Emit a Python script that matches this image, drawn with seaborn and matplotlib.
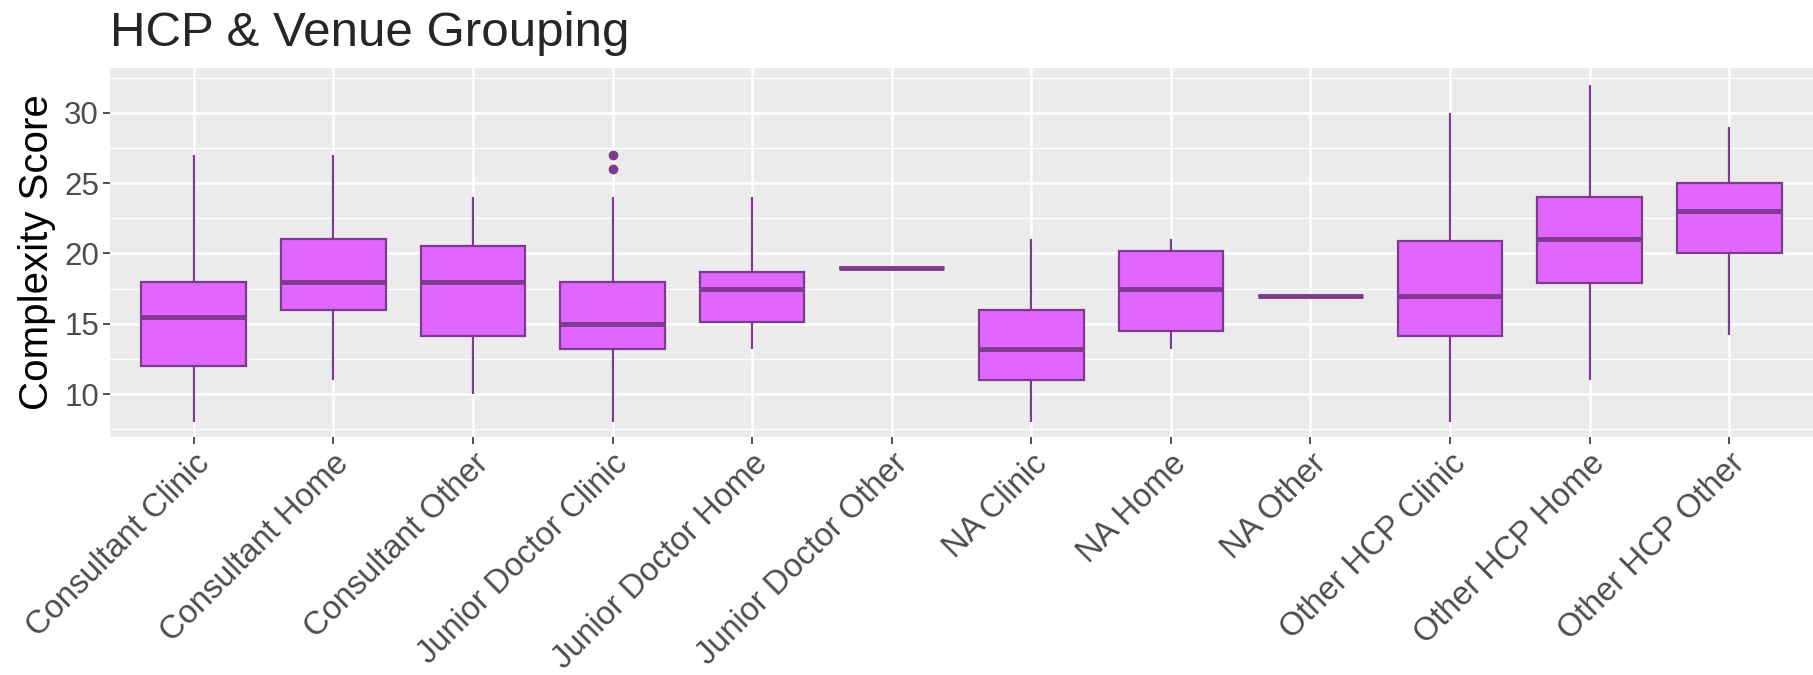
import pandas as pd
import numpy as np
import matplotlib.pyplot as plt
import seaborn as sns

# Five-number summaries (whisker low, Q1, median, Q3, whisker high)
groups = ["Consultant Clinic", "Consultant Home", "Consultant Other",
          "Junior Doctor Clinic", "Junior Doctor Home", "Junior Doctor Other",
          "NA Clinic", "NA Home", "NA Other",
          "Other HCP Clinic", "Other HCP Home", "Other HCP Other"]
whisk_lo = [8, 11, 10, 8, 13.2, 19, 8, 13.2, 17, 8, 11, 14.2]
q1 = [12, 16, 14.1, 13.2, 15.1, 19, 11, 14.5, 17, 14.1, 17.9, 20]
median = [15.5, 18, 18, 15, 17.5, 19, 13.2, 17.5, 17, 17, 21, 23]
q3 = [18, 21, 20.5, 18, 18.7, 19, 16, 20.2, 17, 20.9, 24, 25]
whisk_hi = [27, 27, 24, 24, 24, 19, 21, 21, 17, 30, 32, 29]

# outlying points
outlier_group = ["Junior Doctor Clinic", "Junior Doctor Clinic"]
outlier_value = [26, 27]

FILL = "#E066FF"
EDGE = "#7D3A8F"

rows = []
for g, a, b, c, d, e in zip(groups, whisk_lo, q1, median, q3, whisk_hi):
    for v in (a, b, c, d, e):
        rows.append({"group": g, "score": v})
df = pd.DataFrame(rows)
out_df = pd.DataFrame({"group": outlier_group, "score": outlier_value})

sns.set_style("darkgrid", {"axes.facecolor": "#EBEBEB", "grid.color": "white"})
plt.rcParams["font.family"] = ["Liberation Sans", "DejaVu Sans"]

fig = plt.figure(figsize=(18.13, 6.75), dpi=100)
ax = fig.add_axes([110 / 1813, 1 - 437 / 675, 1 - 110 / 1813, (437 - 68) / 675])

sns.boxplot(data=df, x="group", y="score", order=groups, ax=ax,
            width=0.75, whis=(0, 100), color=FILL, saturation=1,
            linecolor=EDGE, linewidth=1.6, showcaps=False,
            medianprops={"linewidth": 3.5, "color": EDGE}, showfliers=False)
sns.stripplot(data=out_df, x="group", y="score", order=groups, ax=ax,
              jitter=False, color=EDGE, size=7, linewidth=0)

ax.set_xlim(-0.6, 11.6)
ax.set_ylim(6.94, 33.2)
ax.set_yticks([10, 15, 20, 25, 30])
ax.set_yticks([7.5, 12.5, 17.5, 22.5, 27.5, 32.5], minor=True)
ax.grid(which="major", color="white", linewidth=1.8)
ax.grid(which="minor", axis="y", color="white", linewidth=0.9)
ax.set_axisbelow(True)
for s in ax.spines.values():
    s.set_visible(False)

ax.tick_params(axis="both", which="major", length=5, width=1.2, color="#333333",
               labelcolor="#4D4D4D", pad=3, bottom=True, left=True)
ax.tick_params(axis="y", labelsize=22.5)
ax.tick_params(axis="x", labelsize=23.5)
ax.tick_params(axis="y", which="minor", length=0)
plt.setp(ax.get_xticklabels(), rotation=45, ha="right", va="top", rotation_mode="anchor")

ax.set_xlabel("")
ax.set_ylabel("Complexity Score", fontsize=29, color="black", labelpad=6)
ax.set_title("HCP & Venue Grouping", loc="left", fontsize=35.5, pad=16)

fig.savefig("out.png", dpi=100)
